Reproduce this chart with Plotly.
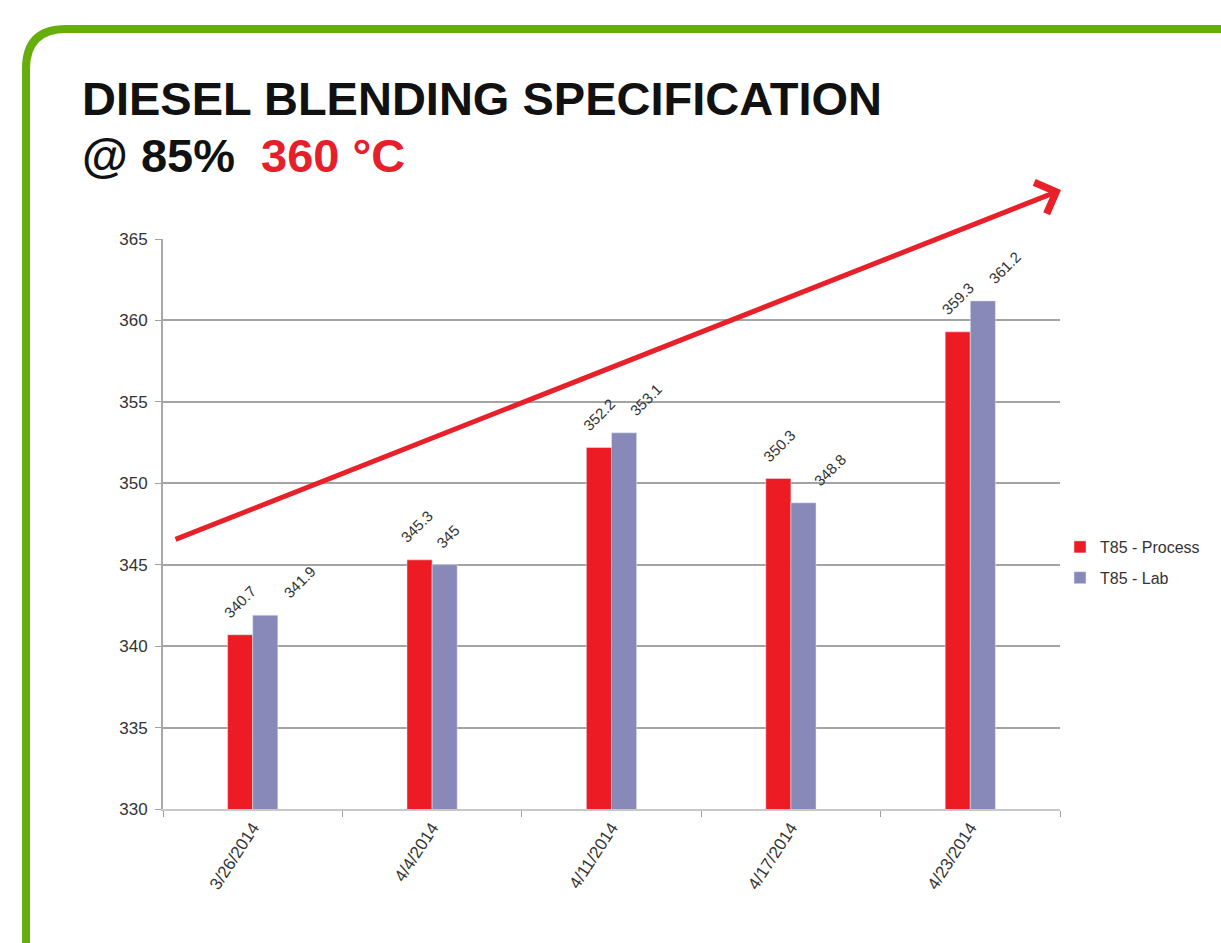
import plotly.graph_objects as go

# Sample dates and T85 distillation temperatures (°C)
dates = ["3/26/2014", "4/4/2014", "4/11/2014", "4/17/2014", "4/23/2014"]
t85_process = [340.7, 345.3, 352.2, 350.3, 359.3]
t85_lab = [341.9, 345.0, 353.1, 348.8, 361.2]
y_ticks = [330, 335, 340, 345, 350, 355, 360, 365]

# Sideways nudges (px) for the value labels so neighbours don't collide
process_label_nudge = [0, -3, 0, 1, 0]
lab_label_nudge = [35, 3, 22, 27, 22]

RED = "#ed1c24"
LAVENDER = "#8989b9"
TEXT = "#333333"
FONT = "Liberation Sans, Arial, sans-serif"

W, H = 1221, 943
L, R, T, B = 163, 1060, 239, 809
BAR_PX = 25


def px(x):
    return (x - L) / (R - L)


def py(y):
    return (B - y) / (B - T)


def fmt(v):
    return f"{v:g}"


fig = go.Figure()
fig.add_trace(go.Bar(name="T85 - Process", x=dates, y=t85_process,
                     marker_color=RED, legendgroup="p"))
fig.add_trace(go.Bar(name="T85 - Lab", x=dates, y=t85_lab,
                     marker_color=LAVENDER, legendgroup="l"))

# Rotated value labels above each bar
for vals, side, nudges in ((t85_process, -1, process_label_nudge),
                           (t85_lab, 1, lab_label_nudge)):
    for d, v, n in zip(dates, vals, nudges):
        fig.add_annotation(
            x=d, y=v, xref="x", yref="y", text=fmt(v), showarrow=False,
            textangle=-45, xanchor="center", yanchor="bottom",
            xshift=side * BAR_PX / 2 + n, yshift=11,
            font=dict(size=15, color=TEXT, family=FONT),
        )

# Rounded green frame around the slide
fl, ft, rad = 26, 29, 40
kx, ky = rad / (R - L), rad / (B - T)
frame = (
    f"M {px(fl)},{py(H + 50)} L {px(fl)},{py(ft) - ky} "
    f"Q {px(fl)},{py(ft)} {px(fl) + kx},{py(ft)} "
    f"L {px(W + 50)},{py(ft)}"
)
fig.add_shape(type="path", path=frame, xref="paper", yref="paper",
              line=dict(color="#67ad0c", width=8))

# Title lines
fig.add_annotation(
    text="<b>DIESEL BLENDING SPECIFICATION</b>", xref="paper", yref="paper",
    x=px(80), y=py(127), xanchor="left", yanchor="bottom", showarrow=False,
    font=dict(size=47, color="#111111", family=FONT),
)
fig.add_annotation(
    text="<b>@ 85%  <span style='color:#e5202a'>360 °C</span></b>",
    xref="paper", yref="paper",
    x=px(80), y=py(184), xanchor="left", yanchor="bottom", showarrow=False,
    font=dict(size=47, color="#111111", family=FONT),
)

# Upward trend arrow
fig.add_annotation(
    x=px(1061), y=py(190), xref="paper", yref="paper",
    ax=174 - 1061, ay=540 - 190, axref="pixel", ayref="pixel",
    showarrow=True, arrowhead=4, arrowsize=1.3, arrowwidth=5,
    arrowcolor="#e8202a", text="",
)

fig.update_layout(
    width=W, height=H,
    margin=dict(l=L, r=W - R, t=T, b=H - B),
    paper_bgcolor="white", plot_bgcolor="white",
    barmode="group", bargap=0.72, bargroupgap=0,
    font=dict(family=FONT, color=TEXT),
    legend=dict(x=1.0, xanchor="left", y=py(530), yanchor="top",
                font=dict(size=16, color=TEXT, family=FONT),
                tracegroupgap=7, itemwidth=30),
    showlegend=True,
)
fig.update_xaxes(
    tickangle=-57, tickfont=dict(size=17, color=TEXT),
    showline=True, linecolor="#c8c8c8", linewidth=2,
    ticks="outside", tickson="boundaries", ticklen=6, tickcolor="#a0a0a0",
    showgrid=False,
)
fig.update_yaxes(
    range=[330, 365], tickvals=y_ticks, tickfont=dict(size=17, color=TEXT),
    showline=True, linecolor="#a8a8a8", linewidth=2,
    showgrid=True, gridcolor="#a4a4a4", gridwidth=2,
    ticks="outside", ticklen=6, tickcolor="#a0a0a0", zeroline=False,
    ticklabelstandoff=4,
)

fig.write_html("out.html")
